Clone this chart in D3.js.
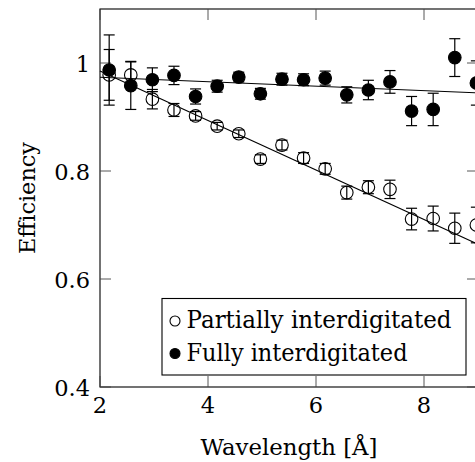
<!DOCTYPE html>
<html>
<head>
<meta charset="utf-8">
<script src="https://cdn.jsdelivr.net/npm/d3@7"></script>
<style>
  html, body { margin: 0; padding: 0; background: #fff; }
  svg { display: block; }
</style>
</head>
<body>
<svg id="chart" width="475" height="462"></svg>
<script>
// Wavelengths of the measurements [Å]
const wavelengths = [2.17, 2.57, 2.97, 3.37, 3.77, 4.17, 4.57, 4.97, 5.37, 5.77,
                     6.17, 6.57, 6.97, 7.37, 7.77, 8.17, 8.57, 8.97];

// Partially interdigitated detector: efficiency and its uncertainty
const partialEff = [0.978, 0.978, 0.933, 0.913, 0.902, 0.883, 0.869, 0.822, 0.848, 0.824,
                    0.804, 0.760, 0.770, 0.766, 0.711, 0.712, 0.694, 0.700];
const partialErr = [0.047, 0.025, 0.018, 0.012, 0.008, 0.007, 0.007, 0.008, 0.009, 0.010,
                    0.010, 0.012, 0.012, 0.017, 0.020, 0.023, 0.028, 0.033];

// Fully interdigitated detector: efficiency and its uncertainty
const fullEff = [0.987, 0.958, 0.969, 0.977, 0.938, 0.957, 0.974, 0.943, 0.970, 0.969,
                 0.972, 0.941, 0.950, 0.965, 0.911, 0.914, 1.010, 0.963];
const fullErr = [0.065, 0.044, 0.022, 0.017, 0.014, 0.011, 0.009, 0.010, 0.011, 0.011,
                 0.013, 0.015, 0.018, 0.021, 0.027, 0.030, 0.035, 0.041];

// Linear fits: [intercept at 2 Å, slope per Å]
const partialFit = [0.985, -0.0458];
const fullFit = [0.9735, -0.0041];

const xTicks = [2, 4, 6, 8];
const yTicks = [0.4, 0.6, 0.8, 1.0];
const yTickLabels = ["0.4", "0.6", "0.8", "1"];
const legendLabels = ["Partially interdigitated", "Fully interdigitated"];

const serif = "DejaVu Serif";
const svg = d3.select("#chart");
const plotLeft = 100, plotTop = 9, plotW = 378, plotH = 378;

const x = d3.scaleLinear().domain([2, 9]).range([plotLeft, plotLeft + plotW]);
const y = d3.scaleLinear().domain([0.4, 1.1]).range([plotTop + plotH, plotTop]);

// Frame
svg.append("rect")
  .attr("x", plotLeft).attr("y", plotTop)
  .attr("width", plotW).attr("height", plotH)
  .attr("fill", "none").attr("stroke", "#000").attr("stroke-width", 1.1);

const tickLen = 11;
const tickG = svg.append("g").attr("stroke", "#444").attr("stroke-width", 0.9);
xTicks.forEach(t => {
  tickG.append("line").attr("x1", x(t)).attr("x2", x(t))
    .attr("y1", plotTop + plotH).attr("y2", plotTop + plotH - tickLen);
  tickG.append("line").attr("x1", x(t)).attr("x2", x(t))
    .attr("y1", plotTop).attr("y2", plotTop + tickLen);
});
yTicks.forEach(t => {
  tickG.append("line").attr("x1", plotLeft).attr("x2", plotLeft + tickLen)
    .attr("y1", y(t)).attr("y2", y(t));
  tickG.append("line").attr("x1", plotLeft + plotW).attr("x2", plotLeft + plotW - tickLen)
    .attr("y1", y(t)).attr("y2", y(t));
});

// Tick labels
svg.append("g").selectAll("text").data(xTicks).join("text")
  .style("font-family", serif)
  .attr("x", d => x(d)).attr("y", plotTop + plotH + 26)
  .attr("text-anchor", "middle").attr("font-size", 22.5)
  .text(d => d);
svg.append("g").selectAll("text").data(yTicks).join("text")
  .style("font-family", serif)
  .attr("x", plotLeft - 10).attr("y", d => y(d) + 8.5)
  .attr("text-anchor", "end").attr("font-size", 22.5)
  .text((d, i) => yTickLabels[i]);

// Axis titles
svg.append("text")
  .style("font-family", serif)
  .attr("x", x(5.5)).attr("y", 455)
  .attr("text-anchor", "middle").attr("font-size", 23)
  .attr("textLength", 177).attr("lengthAdjust", "spacingAndGlyphs")
  .text("Wavelength [Å]");
svg.append("text")
  .style("font-family", serif)
  .attr("transform", `translate(35, ${plotTop + plotH / 2}) rotate(-90)`)
  .attr("text-anchor", "middle").attr("font-size", 23)
  .attr("textLength", 112).attr("lengthAdjust", "spacingAndGlyphs")
  .text("Efficiency");

// Fit lines
const fitLine = d3.line().x(d => x(d[0])).y(d => y(d[1]));
[partialFit, fullFit].forEach(f => {
  const pts = [2, 9].map(w => [w, f[0] + f[1] * (w - 2)]);
  svg.append("path").attr("d", fitLine(pts))
    .attr("fill", "none").attr("stroke", "#000").attr("stroke-width", 1.1);
});

// Error bars + markers
const cap = 5.5, r = 6.3;
function drawSeries(vals, errs, filled) {
  const g = svg.append("g");
  const data = wavelengths.map((w, i) => ({ w, v: vals[i], e: errs[i] }));
  const eb = g.append("g").attr("stroke", "#000").attr("stroke-width", 1.2);
  data.forEach(d => {
    eb.append("line").attr("x1", x(d.w)).attr("x2", x(d.w))
      .attr("y1", y(d.v - d.e)).attr("y2", y(d.v + d.e));
    [d.v - d.e, d.v + d.e].forEach(v => {
      eb.append("line").attr("x1", x(d.w) - cap).attr("x2", x(d.w) + cap)
        .attr("y1", y(v)).attr("y2", y(v));
    });
  });
  g.selectAll("circle").data(data).join("circle")
    .attr("cx", d => x(d.w)).attr("cy", d => y(d.v)).attr("r", r)
    .attr("fill", filled ? "#000" : "none")
    .attr("stroke", "#000").attr("stroke-width", 1.1);
}
drawSeries(partialEff, partialErr, false);
drawSeries(fullEff, fullErr, true);

// Legend
const legendWidths = [265, 221];
const lg = svg.append("g");
lg.append("rect").attr("x", 162).attr("y", 298.5).attr("width", 304).attr("height", 76.5)
  .attr("fill", "#fff").attr("stroke", "#000").attr("stroke-width", 1.1);
legendLabels.forEach((lab, i) => {
  const cy = 321 + i * 32.5;
  lg.append("circle").attr("cx", 175).attr("cy", cy).attr("r", 5)
    .attr("fill", i === 0 ? "#fff" : "#000").attr("stroke", "#000").attr("stroke-width", 1.1);
  lg.append("text").style("font-family", serif)
    .attr("x", 186.5).attr("y", cy + 7).attr("font-size", 23.5)
    .attr("textLength", legendWidths[i]).attr("lengthAdjust", "spacingAndGlyphs")
    .text(lab);
});
</script>
</body>
</html>
